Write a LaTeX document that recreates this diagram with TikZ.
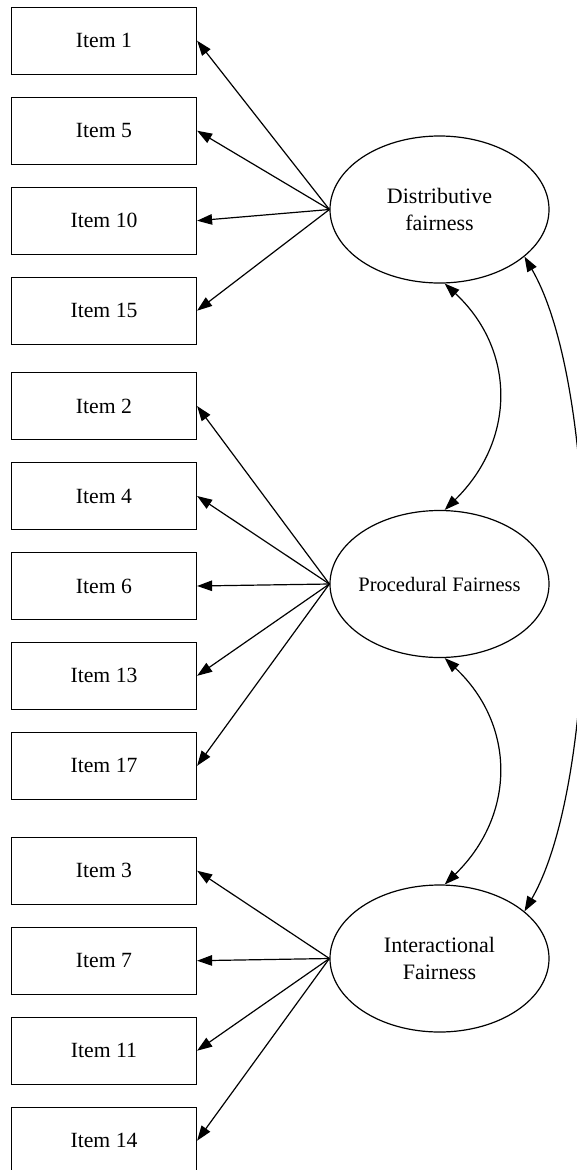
\documentclass[tikz,border=0pt]{standalone}
\usepackage{fontspec}
\setmainfont{Liberation Serif}
\usetikzlibrary{shapes.geometric,arrows.meta}
\begin{document}
\begin{tikzpicture}[x=1pt,y=-1pt,
  itembox/.style={draw, line width=1.2pt, rectangle, minimum width=185pt,
    minimum height=67pt, inner sep=0pt, font=\fontsize{21.7}{27}\selectfont},
  factor/.style={draw, line width=1.2pt, ellipse, minimum width=219pt,
    minimum height=147pt, inner sep=0pt, align=center,
    font=\fontsize{22}{27}\selectfont},
  load/.style={line width=1.2pt, -{Triangle[length=15pt,width=10.5pt]}},
  cov/.style={line width=1.2pt, {Triangle[length=15pt,width=10.5pt]}-{Triangle[length=15pt,width=10.5pt]}}]
\path[use as bounding box] (0,0) rectangle (576,1170);

% latent factors
\node[factor] (D) at (439.5,209.5) {Distributive\\fairness};
\node[factor, font=\fontsize{20.5}{27}\selectfont] (P) at (439.5,584) {\makebox[0pt]{Procedural Fairness}};
\node[factor] (I) at (439.5,958.5) {Interactional\\Fairness};

% indicators of distributive fairness
\node[itembox] (i1)  at (104,40.7)  {Item 1};
\node[itembox] (i5)  at (104,130.7) {Item 5};
\node[itembox] (i10) at (104,220.7) {Item 10};
\node[itembox] (i15) at (104,310.7) {Item 15};

% indicators of procedural fairness
\node[itembox] (i2)  at (104,406)   {Item 2};
\node[itembox] (i4)  at (104,496)   {Item 4};
\node[itembox] (i6)  at (104,586)   {Item 6};
\node[itembox] (i13) at (104,675.8) {Item 13};
\node[itembox] (i17) at (104,765.8) {Item 17};

% indicators of interactional fairness
\node[itembox] (i3)  at (104,870.7)  {Item 3};
\node[itembox] (i7)  at (104,960.7)  {Item 7};
\node[itembox] (i11) at (104,1050.7) {Item 11};
\node[itembox] (i14) at (104,1140.7) {Item 14};

% factor loadings
\foreach \t in {i1,i5,i10,i15} \draw[load] (D.west) -- (\t.east);
\foreach \t in {i2,i4,i6,i13,i17} \draw[load] (P.west) -- (\t.east);
\foreach \t in {i3,i7,i11,i14} \draw[load] (I.west) -- (\t.east);

% factor covariances
\draw[cov] (D.-86) .. controls (516,350) and (516,440) .. (P.86);
\draw[cov] (P.-86) .. controls (516,725) and (516,815) .. (I.86);
\draw[cov] (D.-29) .. controls (602,390) and (602,777) .. (I.29);
\end{tikzpicture}
\end{document}
